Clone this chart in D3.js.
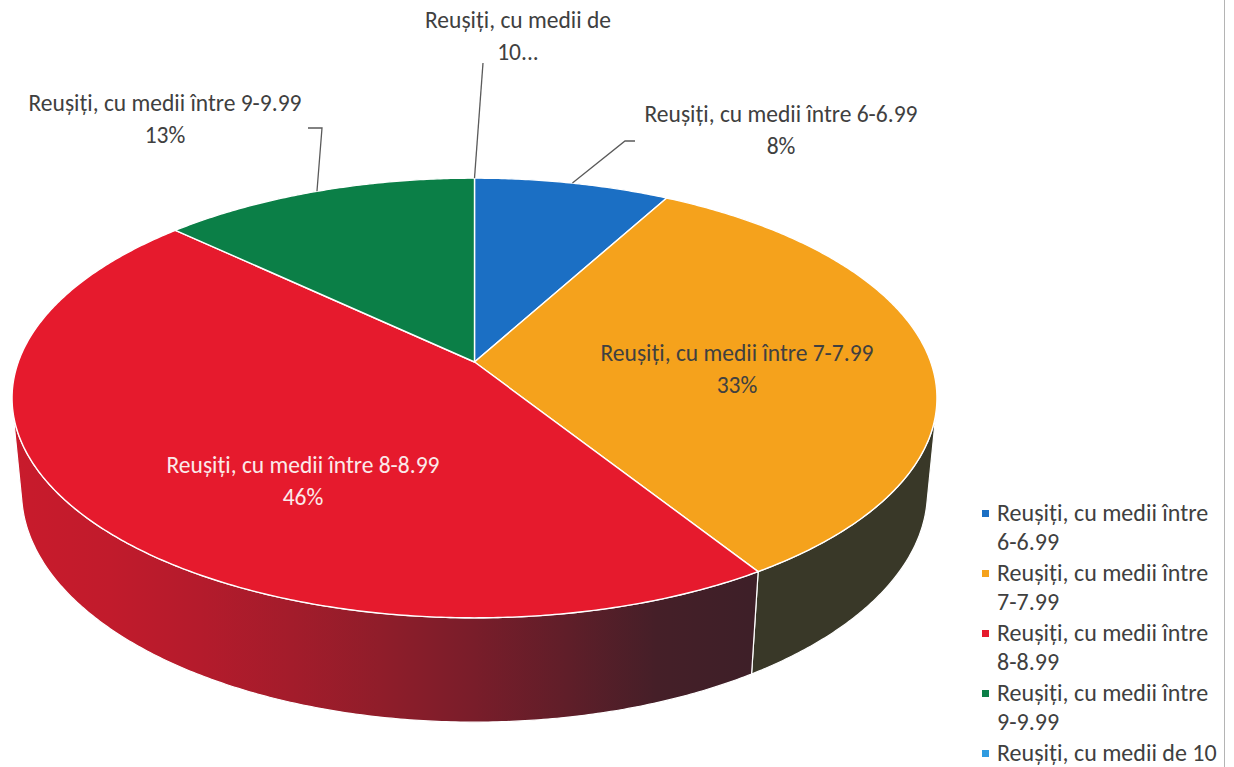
<!DOCTYPE html>
<html>
<head>
<meta charset="utf-8">
<script src="https://cdn.jsdelivr.net/npm/d3@7"></script>
<style>
  html, body { margin: 0; padding: 0; background: #ffffff; }
  svg { display: block; }
  text { font-family: Carlito, "Open Sans", "Noto Sans", sans-serif; }
</style>
</head>
<body>
<script>
// ---- data ----
const categories = [
  "Reușiți, cu medii între 6-6.99",
  "Reușiți, cu medii între 7-7.99",
  "Reușiți, cu medii între 8-8.99",
  "Reușiți, cu medii între 9-9.99",
  "Reușiți, cu medii de 10"
];
const shares = [8, 33, 46, 13, 0];
// data label text (the last one is truncated by the chart, so no percentage is shown)
const labelTitles = [
  ["Reușiți, cu medii între 6-6.99"],
  ["Reușiți, cu medii între 7-7.99"],
  ["Reușiți, cu medii între 8-8.99"],
  ["Reușiți, cu medii între 9-9.99"],
  ["Reușiți, cu medii de", "10..."]
];
const showPercent = [true, true, true, true, false];
const legendLines = [
  ["Reușiți, cu medii între", "6-6.99"],
  ["Reușiți, cu medii între", "7-7.99"],
  ["Reușiți, cu medii între", "8-8.99"],
  ["Reușiți, cu medii între", "9-9.99"],
  ["Reușiți, cu medii de 10"]
];

// ---- styles ----
const topColors  = ["#1b6fc4", "#f5a21c", "#e61a2d", "#0b7f47", "#2f9be0"];
const wallColors = ["#1b3350", "#393828", "#3e1f28", "#15302a", "#1d3a50"];
const labelColors = ["#404040", "#404040", "#fbeaea", "#404040", "#404040"];

// label placement: text centre x, first baseline y, leader polyline after the rim point
const labelLayout = [
  { x: 781, y: 122, leader: [[625, 141], [635, 141]] },
  { x: 737, y: 361, leader: null },
  { x: 303, y: 473, leader: null },
  { x: 165, y: 111, leader: [[322, 128], [308, 128]] },
  { x: 518, y: 28,  leader: [[483, 63]] }
];

const W = 1234, H = 767;
const svg = d3.select("body").append("svg").attr("width", W).attr("height", H);

// ---- 3D pie camera ----
const cx = 474.5, cy = 362;
const cam = { sinP: 0.469, D: 1, R: 0.1853, h: 0.0435, F: 2462 };
cam.cosP = Math.sqrt(1 - cam.sinP * cam.sinP);

// angle: clockwise from 12 o'clock (d3.pie convention); r: fraction of radius; level 0 = top face, 1 = bottom
function project(angle, r, level) {
  const u = Math.sin(angle) * r, v = -Math.cos(angle) * r;
  const y = -level * cam.h;
  const depth = cam.D - y * cam.sinP - cam.R * v * cam.cosP;
  return [cx + cam.F * cam.R * u / depth,
          cy - cam.F * (y * cam.cosP - cam.R * v * cam.sinP) / depth];
}

const pie = d3.pie().sort(null).value(d => d);
const arcs = pie(shares);
const total = d3.sum(shares);

const step = Math.PI / 360;
function rim(a0, a1, level) {
  const n = Math.max(2, Math.ceil((a1 - a0) / step));
  return d3.range(n + 1).map(i => project(a0 + (a1 - a0) * i / n, 1, level));
}
const line = d3.line();

// visible part of the outer wall (cylinder silhouette)
const vSil = cam.R / (cam.D * cam.cosP);
const visA0 = Math.acos(-vSil), visA1 = 2 * Math.PI - visA0;

// shading of the wall, darker toward the right
const left = project(-Math.PI / 2, 1, 0)[0], right = project(Math.PI / 2, 1, 0)[0];
function shade(u) {
  return Math.min(1, 0.18 + 0.82 * Math.pow(Math.max(0, (u + 1) / 1.45), 1.5));
}
const defs = svg.append("defs");
arcs.forEach((a, i) => {
  const g = defs.append("linearGradient")
    .attr("id", "wall" + i)
    .attr("gradientUnits", "userSpaceOnUse")
    .attr("x1", left).attr("x2", right).attr("y1", 0).attr("y2", 0);
  const mix = d3.interpolateRgb(topColors[i], wallColors[i]);
  d3.range(11).forEach(s => {
    const u = s / 5 - 1;
    g.append("stop").attr("offset", s / 10).attr("stop-color", mix(shade(u)));
  });
});

// walls
const walls = svg.append("g");
arcs.forEach((a, i) => {
  const a0 = Math.max(a.startAngle, visA0), a1 = Math.min(a.endAngle, visA1);
  if (a1 <= a0) return;
  const pts = rim(a0, a1, 0).concat(rim(a0, a1, 1).reverse());
  walls.append("path")
    .attr("d", line(pts) + "Z")
    .attr("fill", `url(#wall${i})`)
    .attr("stroke", "#ffffff")
    .attr("stroke-width", 1.2)
    .attr("stroke-linejoin", "round");
});

// top faces
const tops = svg.append("g");
arcs.forEach((a, i) => {
  if (a.endAngle - a.startAngle <= 0) return;
  const pts = [project(0, 0, 0)].concat(rim(a.startAngle, a.endAngle, 0));
  tops.append("path")
    .attr("d", line(pts) + "Z")
    .attr("fill", topColors[i])
    .attr("stroke", "#ffffff")
    .attr("stroke-width", 1.4)
    .attr("stroke-linejoin", "round");
});

// leader lines
const leaders = svg.append("g");
arcs.forEach((a, i) => {
  const lay = labelLayout[i];
  if (!lay.leader) return;
  const mid = (a.startAngle + a.endAngle) / 2;
  const pts = [project(mid, 1, 0)].concat(lay.leader);
  leaders.append("path")
    .attr("d", line(pts))
    .attr("fill", "none")
    .attr("stroke", "#5a5a5a")
    .attr("stroke-width", 1.3);
});

// data labels
const labelSize = 23.5, labelGap = 32;
arcs.forEach((a, i) => {
  const lay = labelLayout[i];
  const lines = labelTitles[i].slice();
  if (showPercent[i]) lines.push(Math.round(shares[i] / total * 100) + "%");
  const t = svg.append("text")
    .attr("text-anchor", "middle")
    .attr("font-size", labelSize)
    .attr("fill", labelColors[i]);
  lines.forEach((s, k) => {
    t.append("tspan").attr("x", lay.x).attr("y", lay.y + k * labelGap).text(s);
  });
});

// legend
const legend = svg.append("g");
const legX = 982, legY = 521, itemStep = 60, lineStep = 29;
legendLines.forEach((lines, i) => {
  const y0 = legY + i * itemStep;
  legend.append("rect")
    .attr("x", legX).attr("y", y0 - 11)
    .attr("width", 7).attr("height", 7)
    .attr("fill", topColors[i]);
  const t = legend.append("text")
    .attr("font-size", 24)
    .attr("fill", "#404040");
  lines.forEach((s, k) => {
    t.append("tspan").attr("x", legX + 15).attr("y", y0 + k * lineStep).text(s);
  });
});

// right frame edge
svg.append("line")
  .attr("x1", 1224.5).attr("x2", 1224.5).attr("y1", 0).attr("y2", H)
  .attr("stroke", "#b4b4b4").attr("stroke-width", 1);
</script>
</body>
</html>
